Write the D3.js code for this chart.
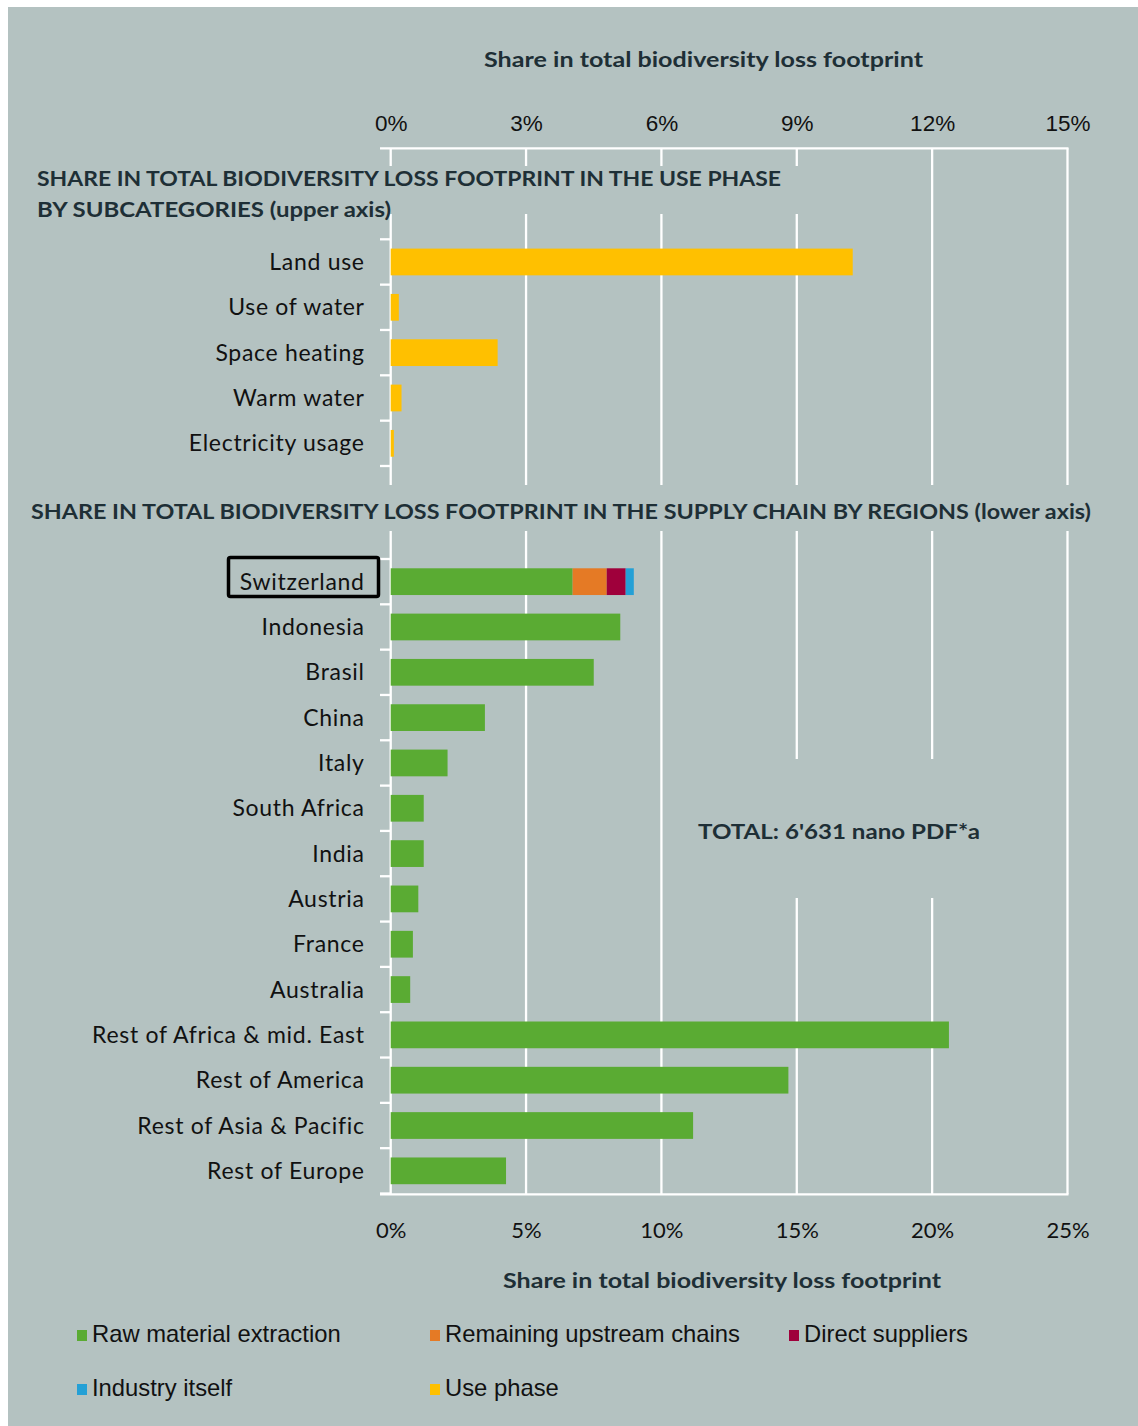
<!DOCTYPE html>
<html>
<head>
<meta charset="utf-8">
<script src="https://cdn.jsdelivr.net/npm/d3@7"></script>
<style>
  html, body { margin: 0; padding: 0; background: #ffffff; }
  svg { display: block; }
</style>
</head>
<body>
<svg id="chart" width="1138" height="1426"></svg>
<script>
// Use-phase subcategories (upper axis, share in %)
const useCategories = ["Land use", "Use of water", "Space heating", "Warm water", "Electricity usage"];
const useValues = [10.24, 0.18, 2.37, 0.24, 0.07];

// Supply-chain regions (lower axis, share in %)
const regions = ["Switzerland", "Indonesia", "Brasil", "China", "Italy", "South Africa", "India",
  "Austria", "France", "Australia", "Rest of Africa & mid. East", "Rest of America",
  "Rest of Asia & Pacific", "Rest of Europe"];
const rawExtraction = [6.72, 8.48, 7.50, 3.48, 2.10, 1.22, 1.22, 1.02, 0.82, 0.72, 20.62, 14.69, 11.17, 4.26];
const upstreamChains = [1.26, 0, 0, 0, 0, 0, 0, 0, 0, 0, 0, 0, 0, 0];
const directSuppliers = [0.70, 0, 0, 0, 0, 0, 0, 0, 0, 0, 0, 0, 0, 0];
const industryItself = [0.30, 0, 0, 0, 0, 0, 0, 0, 0, 0, 0, 0, 0, 0];

// Axis ticks
const upperTicks = [0, 3, 6, 9, 12, 15];
const lowerTicks = [0, 5, 10, 15, 20, 25];

// Legend entries
const legendLabels = ["Raw material extraction", "Remaining upstream chains", "Direct suppliers", "Industry itself", "Use phase"];
const legendColors = ["#5aab33", "#e57a25", "#9f003b", "#24a0d6", "#ffc000"];

const seriesKeys = ["raw", "upstream", "suppliers", "industry"];
const seriesColors = { raw: "#5aab33", upstream: "#e57a25", suppliers: "#9f003b", industry: "#24a0d6" };
const useColor = "#ffc000";

const BG = "#b4c2c1";
const INK = "#111111";
const TITLE = "#1e2f36";
const CAL = "Lato, 'Open Sans', sans-serif";
const ARIAL = "'Liberation Sans', Arial, sans-serif";

const svg = d3.select("#chart");

// panel background
svg.append("rect").attr("x", 8).attr("y", 7).attr("width", 1130).attr("height", 1419).attr("fill", BG);

const X0 = 390.7, X1 = 1067.5;
const xUpper = d3.scaleLinear().domain([0, 15]).range([X0, X1]);
const xLower = d3.scaleLinear().domain([0, 25]).range([X0, X1]);

const yUpper = d3.scaleBand().domain(useCategories).range([239.3, 466]).paddingInner(0.41).paddingOuter(0.205);
const yLower = d3.scaleBand().domain(regions).range([559, 1193.5]).paddingInner(0.41).paddingOuter(0.205);

const TOP = 148.3, BOTTOM = 1194.3;

// gridlines (white)
const grid = svg.append("g");
grid.selectAll("line.v").data(upperTicks).join("line")
  .attr("x1", d => xUpper(d)).attr("x2", d => xUpper(d))
  .attr("y1", TOP).attr("y2", BOTTOM)
  .attr("stroke", "#ffffff").attr("stroke-width", 2.3);

// top and bottom axis lines
svg.append("line").attr("x1", 380).attr("x2", X1 + 1).attr("y1", TOP).attr("y2", TOP)
  .attr("stroke", "#fff").attr("stroke-width", 2.3);
svg.append("line").attr("x1", 380).attr("x2", X1 + 1).attr("y1", BOTTOM).attr("y2", BOTTOM)
  .attr("stroke", "#fff").attr("stroke-width", 2.3);

// category tick marks on the left of the zero line
function bandTicks(scale) {
  const b = scale.domain().map(d => scale(d) - scale.step() * scale.paddingInner() / 2);
  b.push(b[b.length - 1] + scale.step());
  return b;
}
svg.append("g").selectAll("line").data(bandTicks(yUpper).concat(bandTicks(yLower))).join("line")
  .attr("x1", 380).attr("x2", X0).attr("y1", d => d).attr("y2", d => d)
  .attr("stroke", "#fff").attr("stroke-width", 2.3);

// label boxes that sit over the grid
svg.append("rect").attr("x", 28).attr("y", 166).attr("width", 777).attr("height", 48).attr("fill", BG);
svg.append("rect").attr("x", 24).attr("y", 485).attr("width", 1076).attr("height", 46).attr("fill", BG);
svg.append("rect").attr("x", 690).attr("y", 759).attr("width", 310).attr("height", 139).attr("fill", BG);

// upper axis labels
const topAxis = d3.axisTop(xUpper).tickValues(upperTicks).tickSize(0).tickFormat(d => d + "%");
const gTop = svg.append("g").attr("transform", `translate(0,${TOP})`).call(topAxis);
gTop.select(".domain").remove();
gTop.selectAll("text").attr("font-family", ARIAL).attr("font-size", 22.5).attr("fill", INK).attr("dy", 0).attr("y", -17);

// lower axis labels
const bottomAxis = d3.axisBottom(xLower).tickValues(lowerTicks).tickSize(0).tickFormat(d => d + "%");
const gBot = svg.append("g").attr("transform", `translate(0,${BOTTOM})`).call(bottomAxis);
gBot.select(".domain").remove();
gBot.selectAll("text").attr("font-family", CAL).attr("font-size", 22).attr("fill", INK).attr("dy", 0).attr("y", 43.5);

// use-phase bars
svg.append("g").selectAll("rect").data(useCategories).join("rect")
  .attr("x", xUpper(0)).attr("y", d => yUpper(d))
  .attr("width", (d, i) => xUpper(useValues[i]) - xUpper(0))
  .attr("height", yUpper.bandwidth())
  .attr("fill", useColor);

// supply-chain stacked bars
const rows = regions.map((r, i) => ({
  region: r, raw: rawExtraction[i], upstream: upstreamChains[i],
  suppliers: directSuppliers[i], industry: industryItself[i]
}));
const stacked = d3.stack().keys(seriesKeys)(rows);
svg.append("g").selectAll("g").data(stacked).join("g")
  .attr("fill", s => seriesColors[s.key])
  .selectAll("rect").data(s => s.filter(p => p[1] > p[0])).join("rect")
  .attr("x", p => xLower(p[0])).attr("y", p => yLower(p.data.region))
  .attr("width", p => xLower(p[1]) - xLower(p[0]))
  .attr("height", yLower.bandwidth());

// category labels
const labelX = 364.7;
const labelStyle = sel => sel.attr("text-anchor", "end").attr("font-family", CAL).attr("font-size", 23)
  .attr("letter-spacing", 0.7).attr("fill", INK);
svg.append("g").selectAll("text").data(useCategories).join("text")
  .attr("x", labelX).attr("y", d => yUpper(d) + yUpper.bandwidth() / 2 + 8)
  .call(labelStyle).text(d => d);
svg.append("g").selectAll("text").data(regions).join("text")
  .attr("x", labelX).attr("y", d => yLower(d) + yLower.bandwidth() / 2 + 8)
  .call(labelStyle).text(d => d);

// frame around the Switzerland label
svg.append("rect").attr("x", 228.5).attr("y", 557.5).attr("width", 150).attr("height", 39)
  .attr("rx", 2).attr("fill", "none").attr("stroke", "#000").attr("stroke-width", 3.5);

// titles
function title(txt, x, y, anchor, size, len) {
  const t = svg.append("text").attr("x", x).attr("y", y).attr("text-anchor", anchor)
    .attr("font-family", CAL).attr("font-weight", 700).attr("font-size", size).attr("fill", TITLE).text(txt);
  if (len) t.attr("textLength", len).attr("lengthAdjust", "spacingAndGlyphs");
  return t;
}
title("Share in total biodiversity loss footprint", 484, 67, "start", 20, 439);
title("SHARE IN TOTAL BIODIVERSITY LOSS FOOTPRINT IN THE USE PHASE", 37, 186, "start", 21, 744);
title("BY SUBCATEGORIES (upper axis)", 37, 217, "start", 21, 354);
title("SHARE IN TOTAL BIODIVERSITY LOSS FOOTPRINT IN THE SUPPLY CHAIN BY REGIONS (lower axis)", 31, 519, "start", 21, 1060);
title("TOTAL: 6'631 nano PDF*a", 698, 839, "start", 21, 282);
title("Share in total biodiversity loss footprint", 503, 1288, "start", 20, 438);

// legend
const legendPos = [[77, 1342], [430, 1342], [789, 1342], [77, 1396], [430, 1396]];
const lg = svg.append("g").selectAll("g").data(legendLabels).join("g")
  .attr("transform", (d, i) => `translate(${legendPos[i][0]},${legendPos[i][1]})`);
lg.append("rect").attr("x", 0).attr("y", -12).attr("width", 10).attr("height", 11)
  .attr("fill", (d, i) => legendColors[i]);
lg.append("text").attr("x", 15).attr("y", 0).attr("font-family", ARIAL).attr("font-size", 23.8)
  .attr("fill", INK).text(d => d);
</script>
</body>
</html>
